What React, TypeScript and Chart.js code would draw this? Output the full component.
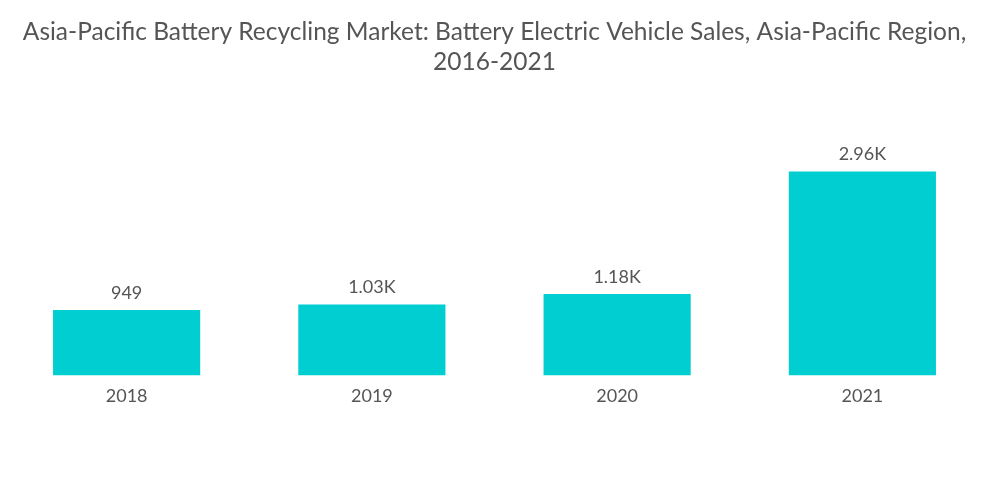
import React, { useEffect, useRef } from "react";
import { Chart, registerables } from "chart.js";

Chart.register(...registerables);

const categories = ["2018", "2019", "2020", "2021"];
const values = [949, 1030, 1180, 2960];
const valueLabels = ["949", "1.03K", "1.18K", "2.96K"];
const titleLines = [
  "Asia-Pacific Battery Recycling Market: Battery Electric Vehicle Sales, Asia-Pacific Region,",
  "2016-2021",
];

const FONT = "Lato, 'Open Sans', sans-serif";
const TEXT = "#555555";

const valueLabelPlugin = {
  id: "valueLabels",
  afterDatasetsDraw(chart: any) {
    const ctx = chart.ctx;
    const meta = chart.getDatasetMeta(0);
    ctx.save();
    ctx.font = `18px ${FONT}`;
    ctx.fillStyle = TEXT;
    ctx.textAlign = "center";
    ctx.textBaseline = "bottom";
    meta.data.forEach((bar: any, i: number) => {
      ctx.fillText(valueLabels[i], bar.x, bar.y - 8);
    });
    ctx.restore();
  },
};

export default function App() {
  const ref = useRef<HTMLCanvasElement>(null);
  useEffect(() => {
    if (!ref.current) return;
    const chart = new Chart(ref.current, {
      type: "bar",
      data: {
        labels: categories,
        datasets: [
          {
            data: values,
            backgroundColor: "#00CED1",
            barPercentage: 0.6,
            categoryPercentage: 1,
          },
        ],
      },
      options: {
        animation: false,
        responsive: false,
        maintainAspectRatio: false,
        layout: { padding: { left: 4, right: 15, top: 0, bottom: 87 } },
        plugins: {
          legend: { display: false },
          tooltip: { enabled: false },
          title: {
            display: true,
            text: titleLines,
            color: TEXT,
            font: { family: FONT, size: 24.5, weight: "normal", lineHeight: 1.22 },
            padding: { top: 17, bottom: 23 },
          },
        },
        scales: {
          x: {
            grid: { display: false, drawTicks: false },
            border: { display: false },
            ticks: {
              color: TEXT,
              font: { family: FONT, size: 18 },
              padding: 10,
            },
          },
          y: {
            display: false,
            min: 0,
            max: 4000,
          },
        },
      },
      plugins: [valueLabelPlugin],
    });
    return () => chart.destroy();
  }, []);
  return (
    <div style={{ position: "absolute", left: 0, top: 0, width: 1000, height: 504, background: "#fff" }}>
      <canvas ref={ref} width={1000} height={504} style={{ width: 1000, height: 504 }} />
    </div>
  );
}
